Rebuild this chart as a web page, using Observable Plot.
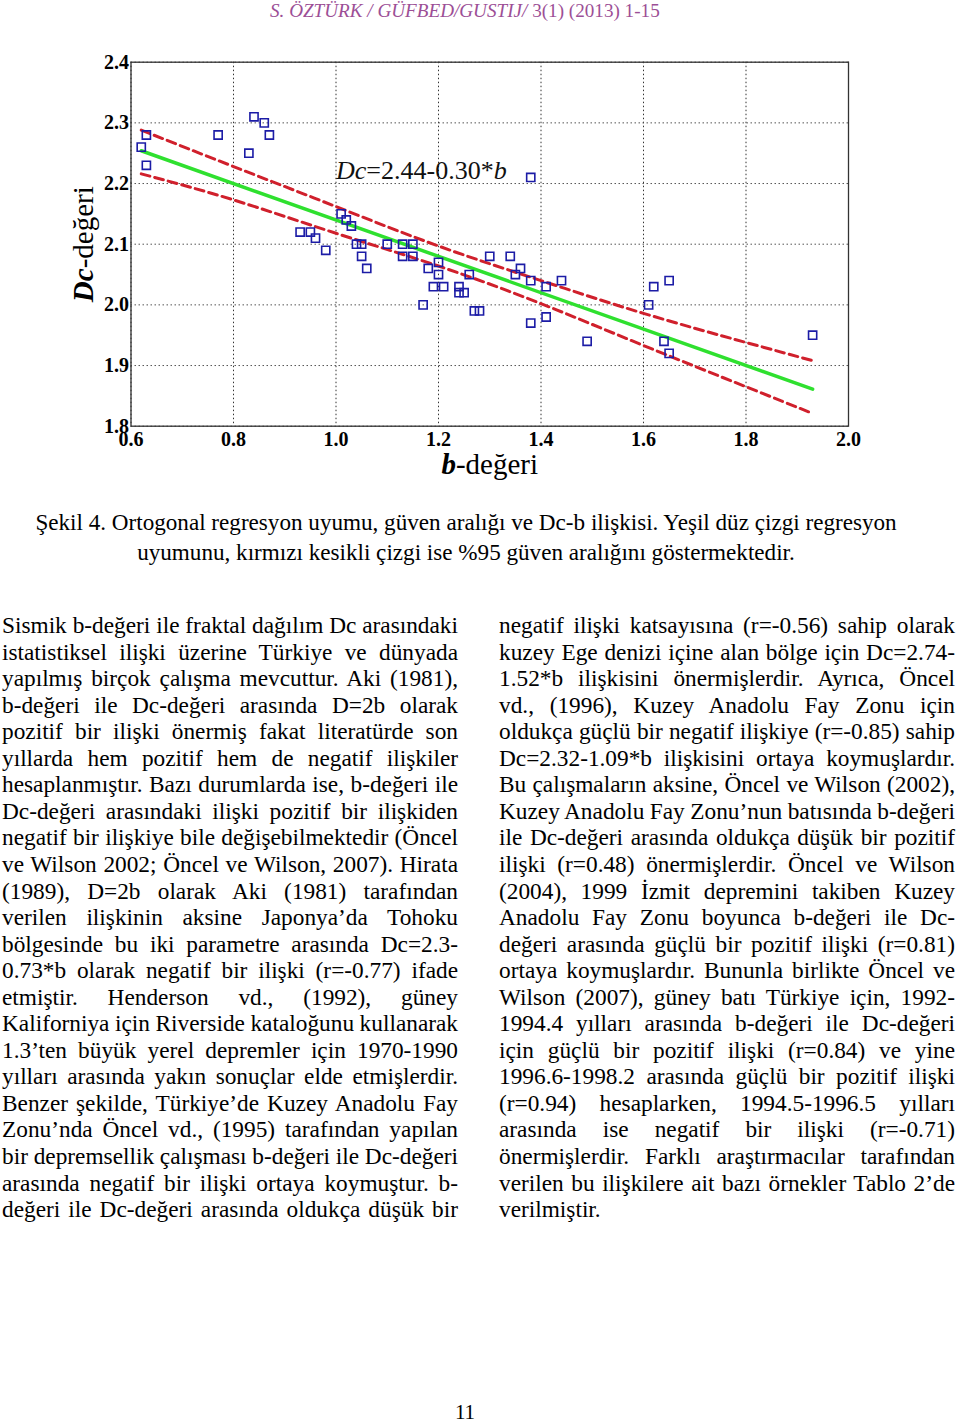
<!DOCTYPE html>
<html>
<head>
<meta charset="utf-8">
<script src="https://cdn.jsdelivr.net/npm/d3@7"></script>
<script src="https://cdn.jsdelivr.net/npm/@observablehq/plot@0.6"></script>
<style>
  html, body { margin: 0; padding: 0; background: #fff; }
  #page { position: relative; width: 960px; height: 1425px; overflow: hidden; font-family: "Liberation Serif", "Times New Roman", serif; color: #000; }
  #chart { position: absolute; left: 0; top: 0; }
  .line { position: absolute; white-space: nowrap; font-size: 21px; line-height: 26px; }
  #header { position: absolute; white-space: nowrap; color: #9c4f96; }
  .cap { position: absolute; white-space: nowrap; font-size: 21px; line-height: 26px; }
  #pnum { position: absolute; left: 0; width: 930px; text-align: center; top: 1400px; font-size: 21px; }
</style>
</head>
<body>
<div id="page">
  <div id="chart"></div>
  <div id="header"><i>S. ÖZTÜRK / GÜFBED/GUSTIJ/</i> 3(1) (2013) 1-15</div>
  <div id="pnum">11</div>
</div>
<script>
// ---- chart data ----
const bValues  = [0.62,0.63,0.63,0.77,0.83,0.84,0.86,0.87,0.93,0.95,0.96,0.98,1.01,1.02,1.03,1.04,1.05,1.05,1.06,1.10,1.13,1.13,1.15,1.15,1.17,1.18,1.19,1.20,1.20,1.21,1.24,1.24,1.25,1.26,1.27,1.28,1.30,1.34,1.35,1.36,1.38,1.38,1.38,1.41,1.41,1.44,1.49,1.61,1.62,1.64,1.65,1.65,1.93];
const dcValues = [2.26,2.28,2.23,2.28,2.25,2.31,2.30,2.28,2.12,2.12,2.11,2.09,2.15,2.14,2.13,2.10,2.10,2.08,2.06,2.10,2.10,2.08,2.10,2.08,2.00,2.06,2.03,2.07,2.05,2.03,2.03,2.02,2.02,2.05,1.99,1.99,2.08,2.08,2.05,2.06,2.04,2.21,1.97,2.03,1.98,2.04,1.94,2.00,2.03,1.94,2.04,1.92,1.95];
const fitB  = [0.62, 1.93];
const fitDc = [2.254, 1.861];
const ciB     = [0.62, 0.80, 1.00, 1.20, 1.40, 1.60, 1.80, 1.93];
const ciUpper = [2.288, 2.228, 2.162, 2.097, 2.040, 1.986, 1.938, 1.908];
const ciLower = [2.216, 2.173, 2.118, 2.064, 2.002, 1.933, 1.865, 1.821];
const xTicks = [0.6, 0.8, 1.0, 1.2, 1.4, 1.6, 1.8, 2.0];
const yTicks = [1.8, 1.9, 2.0, 2.1, 2.2, 2.3, 2.4];
const equationText = "Dc=2.44-0.30*b";
const xLabelText = "b-değeri";
const yLabelText = "Dc-değeri";

const points = bValues.map((b, i) => ({b, dc: dcValues[i]}));
const fit = fitB.map((b, i) => ({b, dc: fitDc[i]}));
const upper = ciB.map((b, i) => ({b, dc: ciUpper[i]}));
const lower = ciB.map((b, i) => ({b, dc: ciLower[i]}));

const serif = "Liberation Serif, Times New Roman, serif";
const svg = Plot.plot({
  width: 960, height: 490,
  marginLeft: 130.5, marginRight: 112, marginTop: 61.7, marginBottom: 64.3,
  style: {fontFamily: serif, background: "transparent", color: "#000"},
  x: {domain: [0.6, 2.0]},
  y: {domain: [1.8, 2.4]},
  marks: [
    Plot.gridX(xTicks, {stroke: "#333", strokeOpacity: 1, strokeDasharray: "1.5,2.5", strokeWidth: 1}),
    Plot.gridY(yTicks, {stroke: "#555", strokeOpacity: 1, strokeDasharray: "1.5,2.5", strokeWidth: 1}),
    Plot.frame({stroke: "#333", strokeWidth: 1.3}),
    Plot.line(fit, {x: "b", y: "dc", stroke: "#2fe02f", strokeWidth: 3.5}),
    Plot.line(upper, {x: "b", y: "dc", stroke: "#d0202c", strokeWidth: 3, strokeDasharray: "9,5", curve: "natural"}),
    Plot.line(lower, {x: "b", y: "dc", stroke: "#d0202c", strokeWidth: 3, strokeDasharray: "9,5", curve: "natural"}),
    Plot.dot(points, {x: "b", y: "dc", symbol: "square", r: 4.6, stroke: "#1c1ca6", strokeWidth: 1.6, fill: "none"}),
    Plot.text([{b: 1.0, dc: 2.221}], {x: "b", y: "dc", text: () => equationText, textAnchor: "start", lineAnchor: "middle", fontSize: 26, fill: "#111", className: "eqn"}),
    Plot.axisX(xTicks, {tickSize: 0, tickPadding: 6, tickFormat: d3.format(".1f"), fontSize: 20, fontWeight: "bold", label: null}),
    Plot.axisY(yTicks, {tickSize: 0, tickPadding: 2, tickFormat: d3.format(".1f"), fontSize: 20, fontWeight: "bold", label: null}),
    Plot.text([xLabelText], {frameAnchor: "bottom", dy: 39, textAnchor: "middle", lineAnchor: "middle", text: d => d, fontSize: 29, className: "xlab"}),
    Plot.text([yLabelText], {frameAnchor: "left", dx: -47, rotate: -90, textAnchor: "middle", lineAnchor: "middle", text: d => d, fontSize: 29, className: "ylab"})
  ]
});
document.getElementById("chart").appendChild(svg);

// mixed-style labels
function restyle(cls, parts) {
  d3.select(svg).selectAll("g." + cls + " text").each(function() {
    const t = d3.select(this);
    t.text(null);
    parts.forEach(p => {
      const s = t.append("tspan").text(p.t);
      if (p.i) s.attr("font-style", "italic");
      if (p.b) s.attr("font-weight", "bold");
    });
  });
}
restyle("eqn", [{t: "Dc", i: 1}, {t: "=2.44-0.30*"}, {t: "b", i: 1}]);
restyle("xlab", [{t: "b", i: 1, b: 1}, {t: "-değeri"}]);
restyle("ylab", [{t: "Dc", i: 1, b: 1}, {t: "-değeri"}]);

// ---- page text ----
const captionLines = [
  "Şekil 4. Ortogonal regresyon uyumu, güven aralığı ve Dc-b ilişkisi. Yeşil düz çizgi regresyon",
  "uyumunu, kırmızı kesikli çizgi ise %95 güven aralığını göstermektedir."
];
const leftLines = [
  "Sismik b-değeri ile fraktal dağılım Dc arasındaki",
  "istatistiksel ilişki üzerine Türkiye ve dünyada",
  "yapılmış birçok çalışma mevcuttur. Aki (1981),",
  "b-değeri ile Dc-değeri arasında D=2b olarak",
  "pozitif bir ilişki önermiş fakat literatürde son",
  "yıllarda hem pozitif hem de negatif ilişkiler",
  "hesaplanmıştır. Bazı durumlarda ise, b-değeri ile",
  "Dc-değeri arasındaki ilişki pozitif bir ilişkiden",
  "negatif bir ilişkiye bile değişebilmektedir (Öncel",
  "ve Wilson 2002; Öncel ve Wilson, 2007). Hirata",
  "(1989), D=2b olarak Aki (1981) tarafından",
  "verilen ilişkinin aksine Japonya’da Tohoku",
  "bölgesinde bu iki parametre arasında Dc=2.3-",
  "0.73*b olarak negatif bir ilişki (r=-0.77) ifade",
  "etmiştir. Henderson vd., (1992), güney",
  "Kaliforniya için Riverside kataloğunu kullanarak",
  "1.3’ten büyük yerel depremler için 1970-1990",
  "yılları arasında yakın sonuçlar elde etmişlerdir.",
  "Benzer şekilde, Türkiye’de Kuzey Anadolu Fay",
  "Zonu’nda Öncel vd., (1995) tarafından yapılan",
  "bir depremsellik çalışması b-değeri ile Dc-değeri",
  "arasında negatif bir ilişki ortaya koymuştur. b-",
  "değeri ile Dc-değeri arasında oldukça düşük bir"
];
const rightLines = [
  "negatif ilişki katsayısına (r=-0.56) sahip olarak",
  "kuzey Ege denizi içine alan bölge için Dc=2.74-",
  "1.52*b ilişkisini önermişlerdir. Ayrıca, Öncel",
  "vd., (1996), Kuzey Anadolu Fay Zonu için",
  "oldukça güçlü bir negatif ilişkiye (r=-0.85) sahip",
  "Dc=2.32-1.09*b ilişkisini ortaya koymuşlardır.",
  "Bu çalışmaların aksine, Öncel ve Wilson (2002),",
  "Kuzey Anadolu Fay Zonu’nun batısında b-değeri",
  "ile Dc-değeri arasında oldukça düşük bir pozitif",
  "ilişki (r=0.48) önermişlerdir. Öncel ve Wilson",
  "(2004), 1999 İzmit depremini takiben Kuzey",
  "Anadolu Fay Zonu boyunca b-değeri ile Dc-",
  "değeri arasında güçlü bir pozitif ilişki (r=0.81)",
  "ortaya koymuşlardır. Bununla birlikte Öncel ve",
  "Wilson (2007), güney batı Türkiye için, 1992-",
  "1994.4 yılları arasında b-değeri ile Dc-değeri",
  "için güçlü bir pozitif ilişki (r=0.84) ve yine",
  "1996.6-1998.2 arasında güçlü bir pozitif ilişki",
  "(r=0.94) hesaplarken, 1994.5-1996.5 yılları",
  "arasında ise negatif bir ilişki (r=-0.71)",
  "önermişlerdir. Farklı araştırmacılar tarafından",
  "verilen bu ilişkilere ait bazı örnekler Tablo 2’de",
  "verilmiştir."
];

const page = document.getElementById("page");

// body font size: first left line is set with natural spacing across the column
const probe = document.createElement("div");
probe.className = "line";
probe.textContent = leftLines[0];
page.appendChild(probe);
const bodyFs = 21 * 456 / probe.getBoundingClientRect().width;
page.removeChild(probe);

function placeColumn(lines, left, width, lastJustified) {
  lines.forEach((txt, i) => {
    const el = document.createElement("div");
    el.className = "line";
    el.style.fontSize = bodyFs + "px";
    el.textContent = txt;
    el.style.left = left + "px";
    el.style.top = (626 - 14 + i * 26.55) + "px";
    page.appendChild(el);
    const w = el.getBoundingClientRect().width;
    const gaps = (txt.match(/ /g) || []).length;
    const justify = i < lines.length - 1 || lastJustified;
    if (gaps > 0 && (justify || w > width)) {
      el.style.wordSpacing = ((width - w) / gaps) + "px";
    }
  });
}
placeColumn(leftLines, 2, 456, true);
placeColumn(rightLines, 499, 456, false);

// caption lines centred
const capEls = captionLines.map((txt, i) => {
  const el = document.createElement("div");
  el.className = "cap";
  el.textContent = txt;
  el.style.top = (523 - 14 + i * 30) + "px";
  page.appendChild(el);
  return el;
});
const w0 = capEls[0].getBoundingClientRect().width;
const fs = 21 * 862 / w0;
capEls.forEach(el => {
  el.style.fontSize = fs + "px";
  const w = el.getBoundingClientRect().width;
  el.style.left = (466 - w / 2) + "px";
});

// header
const hd = document.getElementById("header");
hd.style.fontSize = "18px";
const hw = hd.getBoundingClientRect().width;
hd.style.fontSize = (18 * 390 / hw) + "px";
hd.style.left = "270px";
hd.style.top = "0px";
</script>
</body>
</html>
